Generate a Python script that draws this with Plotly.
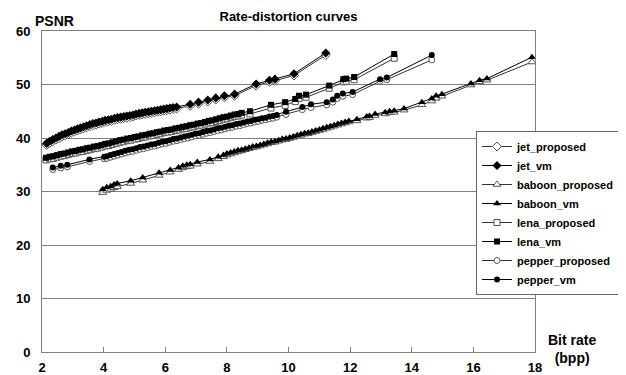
import plotly.graph_objects as go

# ---------------- data ----------------
jet_rate = [2.15, 2.25, 2.35, 2.45, 2.55, 2.65, 2.75, 2.85, 2.95, 3.05, 3.15, 3.25, 3.35, 3.45,
            3.55, 3.65, 3.75, 3.85, 3.95, 4.05, 4.15, 4.25, 4.35, 4.45, 4.55, 4.65, 4.75, 4.85,
            4.95, 5.05, 5.15, 5.25, 5.35, 5.45, 5.55, 5.65, 5.75, 5.85, 5.95, 6.05, 6.15, 6.25,
            6.37, 6.81, 7.08, 7.38, 7.64, 7.92, 8.25, 8.95, 9.38, 9.56, 10.18, 11.21]
jet_vm = [39.0, 39.4, 39.7, 40.0, 40.3, 40.6, 40.8, 41.0, 41.3, 41.5, 41.7, 41.9, 42.1, 42.3,
          42.5, 42.7, 42.8, 43.0, 43.1, 43.3, 43.4, 43.5, 43.7, 43.8, 43.9, 44.0, 44.1, 44.2,
          44.3, 44.5, 44.6, 44.7, 44.8, 44.9, 45.0, 45.1, 45.2, 45.3, 45.4, 45.5, 45.6, 45.7,
          45.8, 46.3, 46.7, 47.1, 47.5, 47.9, 48.2, 50.1, 50.8, 51.0, 52.0, 55.9]
jet_proposed = [38.7, 39.1, 39.4, 39.7, 40.0, 40.3, 40.5, 40.7, 41.0, 41.2, 41.4, 41.6, 41.8, 42.0,
                42.2, 42.4, 42.5, 42.7, 42.8, 43.0, 43.1, 43.2, 43.4, 43.5, 43.6, 43.7, 43.8, 43.9,
                44.0, 44.2, 44.3, 44.4, 44.5, 44.6, 44.7, 44.8, 44.9, 45.0, 45.1, 45.2, 45.3, 45.4,
                45.5, 46.0, 46.4, 46.8, 47.2, 47.6, 47.9, 49.8, 50.5, 50.7, 51.7, 55.5]

baboon_rate = [3.97, 4.10, 4.23, 4.34, 4.44, 4.88, 5.27, 5.80, 6.16, 6.43, 6.57, 6.70, 6.81, 7.04,
               7.45, 7.72, 7.89,
               8.00, 8.12, 8.24, 8.36, 8.48, 8.60, 8.72, 8.84, 8.96, 9.08, 9.20, 9.32, 9.44, 9.56,
               9.68, 9.80, 9.92, 10.04, 10.16, 10.28, 10.40, 10.52, 10.64, 10.76, 10.88, 11.00,
               11.12, 11.24, 11.36, 11.48, 11.60, 11.72, 11.84, 11.96,
               12.22, 12.54, 12.63, 12.81, 13.14, 13.28, 13.43, 13.75, 14.33, 14.65, 14.79, 14.98,
               15.92, 16.20, 16.44, 17.90]
baboon_vm = [30.4, 30.8, 31.0, 31.3, 31.5, 32.0, 32.6, 33.5, 34.0, 34.5, 34.8, 35.0, 35.1, 35.5,
             36.0, 36.5, 36.8,
             37.1, 37.3, 37.5, 37.7, 37.8, 38.0, 38.2, 38.4, 38.5, 38.7, 38.9, 39.1, 39.3, 39.4,
             39.6, 39.8, 39.9, 40.1, 40.3, 40.5, 40.7, 40.9, 41.0, 41.2, 41.4, 41.6,
             41.8, 42.0, 42.2, 42.4, 42.6, 42.8, 43.0, 43.2,
             43.5, 44.0, 44.1, 44.5, 44.8, 45.0, 45.1, 45.5, 46.7, 47.4, 47.9, 48.2,
             50.2, 50.8, 51.1, 55.1]
baboon_proposed = [29.8, 30.2, 30.4, 30.7, 30.9, 31.5, 32.1, 33.0, 33.6, 34.1, 34.4, 34.6, 34.7, 35.1,
                   35.6, 36.1, 36.5,
                   36.8, 37.0, 37.2, 37.4, 37.6, 37.8, 38.0, 38.2, 38.3, 38.5, 38.7, 38.9, 39.1, 39.2,
                   39.4, 39.6, 39.7, 39.9, 40.1, 40.3, 40.5, 40.7, 40.8, 41.0, 41.2, 41.4,
                   41.6, 41.8, 42.0, 42.2, 42.4, 42.6, 42.8, 43.0,
                   43.2, 43.7, 43.8, 44.2, 44.5, 44.7, 44.8, 45.2, 46.2, 46.9, 47.4, 47.8,
                   49.9, 50.5, 50.8, 54.2]

lena_rate = [2.13, 2.25, 2.37, 2.49, 2.61, 2.73, 2.85, 2.97, 3.09, 3.21, 3.33, 3.45, 3.57, 3.69,
             3.81, 3.93, 4.05, 4.17, 4.29, 4.41, 4.53, 4.65, 4.77, 4.89, 5.01, 5.13, 5.25, 5.37,
             5.49, 5.61, 5.73, 5.85, 5.97, 6.09, 6.21, 6.33, 6.45, 6.57, 6.69, 6.81, 6.93, 7.05,
             7.17, 7.29, 7.41, 7.53, 7.65, 7.77, 7.89, 8.01, 8.13, 8.25, 8.37, 8.48,
             8.75, 9.43, 9.89, 10.22, 10.34, 10.57, 11.32, 11.78, 11.87, 12.13, 13.43]
lena_vm = [36.3, 36.5, 36.6, 36.8, 37.0, 37.1, 37.3, 37.5, 37.6, 37.8, 37.9, 38.1, 38.2, 38.4,
           38.5, 38.7, 38.9, 39.0, 39.2, 39.4, 39.6, 39.7, 39.9, 40.0, 40.2, 40.3, 40.5, 40.6,
           40.8, 40.9, 41.1, 41.2, 41.4, 41.5, 41.6, 41.8, 41.9, 42.1, 42.2, 42.4, 42.5, 42.7,
           42.8, 43.0, 43.2, 43.3, 43.5, 43.7, 43.9, 44.0, 44.2, 44.4, 44.5, 44.7,
           45.0, 46.2, 46.7, 47.3, 47.9, 48.1, 49.8, 51.0, 51.1, 51.4, 55.7]
lena_proposed = [35.9, 36.1, 36.2, 36.4, 36.6, 36.7, 36.9, 37.1, 37.2, 37.4, 37.5, 37.7, 37.8, 38.0,
                 38.1, 38.3, 38.5, 38.6, 38.8, 39.0, 39.2, 39.3, 39.5, 39.6, 39.8, 39.9, 40.1, 40.2,
                 40.4, 40.5, 40.7, 40.8, 41.0, 41.1, 41.2, 41.4, 41.5, 41.7, 41.8, 42.0, 42.1, 42.3,
                 42.4, 42.6, 42.8, 42.9, 43.1, 43.3, 43.5, 43.6, 43.8, 44.0, 44.1, 44.3,
                 44.5, 45.6, 46.1, 46.8, 47.4, 47.6, 49.3, 50.5, 50.6, 50.9, 54.9]

pepper_rate = [2.35, 2.61, 2.82, 3.54, 4.02,
               4.10, 4.22, 4.34, 4.46, 4.58, 4.70, 4.82, 4.94, 5.06, 5.18, 5.30, 5.42, 5.54, 5.66,
               5.78, 5.90, 6.02, 6.14, 6.26, 6.38, 6.50, 6.62, 6.74, 6.86, 6.98, 7.10, 7.22, 7.34,
               7.46, 7.58, 7.70, 7.82, 7.94, 8.06, 8.18, 8.30, 8.42, 8.54, 8.66, 8.78, 8.90, 9.02,
               9.14, 9.26, 9.38, 9.50, 9.62,
               9.92, 10.45, 10.73, 11.24, 11.44, 11.58, 11.76, 12.08, 12.97, 13.19, 14.65]
pepper_vm = [34.5, 34.8, 35.0, 36.0, 36.5,
             36.6, 36.8, 37.0, 37.2, 37.4, 37.6, 37.8, 37.9, 38.1, 38.3, 38.4, 38.6, 38.8, 38.9,
             39.1, 39.3, 39.4, 39.6, 39.8, 39.9, 40.1, 40.3, 40.4, 40.6, 40.8, 40.9, 41.1, 41.3,
             41.4, 41.6, 41.8, 41.9, 42.1, 42.3, 42.4, 42.6, 42.7, 42.9, 43.1, 43.2, 43.4, 43.5,
             43.7, 43.8, 44.0, 44.1, 44.3,
             44.9, 45.8, 46.3, 46.7, 47.2, 47.9, 48.3, 48.6, 51.0, 51.3, 55.5]
pepper_proposed = [34.1, 34.4, 34.6, 35.6, 36.1,
                   36.2, 36.4, 36.6, 36.8, 37.0, 37.2, 37.4, 37.5, 37.7, 37.9, 38.0, 38.2, 38.4, 38.5,
                   38.7, 38.9, 39.0, 39.2, 39.4, 39.5, 39.7, 39.9, 40.0, 40.2, 40.4, 40.5, 40.7, 40.9,
                   41.0, 41.2, 41.4, 41.5, 41.7, 41.9, 42.0, 42.2, 42.3, 42.5, 42.7, 42.8, 43.0, 43.1,
                   43.3, 43.4, 43.6, 43.7, 43.9,
                   44.4, 45.3, 45.7, 46.2, 46.7, 47.4, 47.8, 48.1, 50.6, 50.9, 54.6]

x_ticks = [2, 4, 6, 8, 10, 12, 14, 16, 18]
y_ticks = [0, 10, 20, 30, 40, 50, 60]

series = [
    ("jet_proposed", jet_rate, jet_proposed, "diamond-open"),
    ("jet_vm", jet_rate, jet_vm, "diamond"),
    ("baboon_proposed", baboon_rate, baboon_proposed, "triangle-up-open"),
    ("baboon_vm", baboon_rate, baboon_vm, "triangle-up"),
    ("lena_proposed", lena_rate, lena_proposed, "square-open"),
    ("lena_vm", lena_rate, lena_vm, "square"),
    ("pepper_proposed", pepper_rate, pepper_proposed, "circle-open"),
    ("pepper_vm", pepper_rate, pepper_vm, "circle"),
]

FONT = "Liberation Sans, Arial, sans-serif"

# The page body has a default 8px margin, so the figure is drawn 8px in and
# 8px down; size the figure so that the visible result fills the 626x375 window.
OFF = 8
W, H = 626 - OFF, 375 - OFF
# plot-area edges in window pixels
pl, pr, pt, pb = 42, 535, 31, 352

fig = go.Figure()
for name, xs, ys, sym in series:
    is_open = sym.endswith("-open")
    base = sym.replace("-open", "")
    size = {"diamond": 7, "triangle-up": 7, "square": 6, "circle": 6}[base]
    if is_open:
        marker = dict(symbol=base, size=size, color="white",
                      line=dict(color="#555555", width=1))
        line = dict(color="#333333", width=1)
    else:
        marker = dict(symbol=base, size=size, color="black",
                      line=dict(color="black", width=0))
        line = dict(color="black", width=1)
    fig.add_trace(go.Scatter(x=xs, y=ys, name=name, mode="lines+markers",
                             marker=marker, line=line))

fig.update_layout(
    width=W, height=H,
    margin=dict(l=pl - OFF, r=626 - pr, t=pt - OFF, b=375 - pb, autoexpand=False),
    paper_bgcolor="white", plot_bgcolor="white",
    font=dict(family=FONT, color="black"),
    title=dict(text="<b>Rate-distortion curves</b>", x=0.5, xref="paper",
               y=1 - (16 - OFF) / H, yref="container", yanchor="middle",
               automargin=False,
               font=dict(size=13, family=FONT, color="black")),
    showlegend=True,
    legend=dict(x=(476 - pl) / (pr - pl), y=(pb - 131) / (pb - pt),
                xanchor="left", yanchor="top",
                bgcolor="white", bordercolor="#666666", borderwidth=1,
                font=dict(size=11, family=FONT, color="black", weight="bold"),
                tracegroupgap=0),
    xaxis=dict(range=[2, 18], tickvals=x_ticks, ticks="inside", ticklen=5,
               tickcolor="#808080", showgrid=False, zeroline=False,
               showline=True, linecolor="#808080", linewidth=1, mirror=True,
               automargin=False,
               tickfont=dict(size=13, family=FONT, color="black", weight="bold"),
               ticklabelstandoff=3),
    yaxis=dict(range=[0, 60], tickvals=y_ticks, ticks="", showgrid=True,
               gridcolor="#808080", gridwidth=1, zeroline=False,
               showline=True, linecolor="#808080", linewidth=1, mirror=True,
               automargin=False,
               tickfont=dict(size=13, family=FONT, color="black", weight="bold"),
               ticklabelstandoff=8),
    annotations=[
        dict(text="<b>PSNR</b>", x=54, y=21, showarrow=False,
             font=dict(size=14, family=FONT, color="black")),
        dict(text="<b>Bit rate<br>(bpp)</b>", x=572, y=349, showarrow=False,
             font=dict(size=14, family=FONT, color="black")),
    ],
)

# convert window-pixel positions of the free labels into paper coordinates
for ann in fig.layout.annotations:
    px, py = ann.x, ann.y
    ann.x = (px - pl) / (pr - pl)
    ann.y = (pb - py) / (pb - pt)
    ann.xref = "paper"
    ann.yref = "paper"
    ann.xanchor = "center"
    ann.yanchor = "middle"

fig.write_html("out.html")
